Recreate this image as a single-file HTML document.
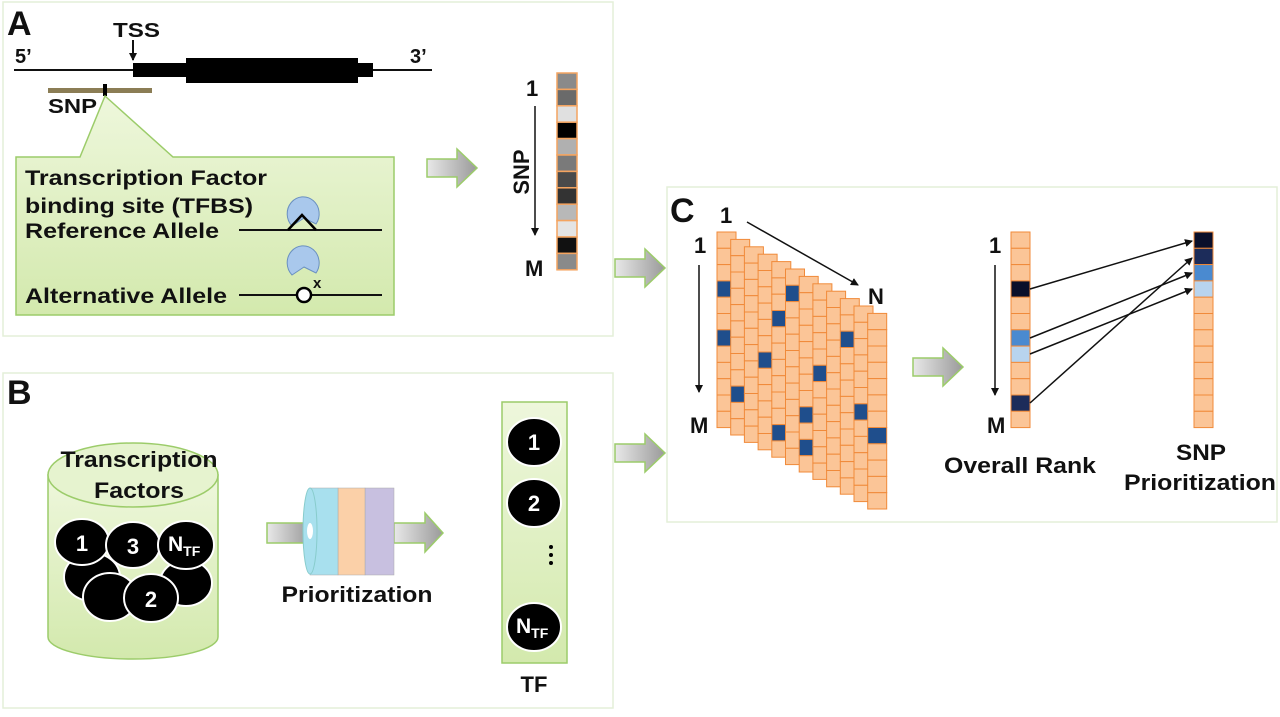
<!DOCTYPE html>
<html><head><meta charset="utf-8"><style>
html,body{margin:0;padding:0;background:#fff;}
svg text{font-family:"Liberation Sans",Arial,sans-serif;font-weight:bold;fill:#111;}
</style></head><body>
<svg width="1280" height="712" viewBox="0 0 1280 712" xmlns="http://www.w3.org/2000/svg">
<defs>
<marker id="ah" markerWidth="8" markerHeight="8" refX="7" refY="4" orient="auto" markerUnits="userSpaceOnUse"><path d="M0,0 L8,4 L0,8 z" fill="#111"/></marker>
<linearGradient id="gr" x1="0" y1="0" x2="1" y2="0"><stop offset="0" stop-color="#e8e8e8"/><stop offset="1" stop-color="#9a9a9a"/></linearGradient>
<linearGradient id="gg" x1="0" y1="0" x2="0" y2="1"><stop offset="0" stop-color="#eef7dc"/><stop offset="1" stop-color="#d3e9ad"/></linearGradient>
<g id="garrow"><path d="M0,10 L30,10 L30,0 L50,19 L30,38 L30,28 L0,28 z" fill="url(#gr)" stroke="#9ccc6a" stroke-width="1.5"/></g>
</defs>
<rect x="3" y="2" width="610" height="334" fill="#fff" stroke="#e4efd8" stroke-width="1.5"/>
<rect x="3" y="373" width="610" height="335" fill="#fff" stroke="#e4efd8" stroke-width="1.5"/>
<rect x="667" y="187" width="610" height="335" fill="#fff" stroke="#e4efd8" stroke-width="1.5"/>

<!-- A -->
<text x="7" y="35" font-size="34">A</text>
<text x="113" y="37" font-size="20" textLength="47" lengthAdjust="spacingAndGlyphs">TSS</text>
<line x1="133" y1="40" x2="133" y2="60" stroke="#111" stroke-width="2" marker-end="url(#ah)"/>
<text x="15" y="63" font-size="20">5’</text>
<text x="410" y="63" font-size="20">3’</text>
<line x1="14" y1="70" x2="432" y2="70" stroke="#111" stroke-width="2"/>
<rect x="133" y="63" width="240" height="14" fill="#000"/>
<rect x="186" y="58" width="172" height="25" fill="#000"/>
<rect x="48" y="88" width="104" height="5" fill="#8b7d55"/>
<rect x="103" y="84" width="4" height="12" fill="#000"/>
<text x="48" y="113" font-size="20" textLength="49" lengthAdjust="spacingAndGlyphs">SNP</text>
<path d="M16,157 L80,157 L105,96 L173,157 L394,157 L394,315 L16,315 z" fill="url(#gg)" stroke="#9ccc6a" stroke-width="1.5"/>
<text x="25" y="185" font-size="21" textLength="242" lengthAdjust="spacingAndGlyphs">Transcription Factor</text>
<text x="25" y="213" font-size="21" textLength="228" lengthAdjust="spacingAndGlyphs">binding site (TFBS)</text>
<text x="25" y="238" font-size="21" textLength="194" lengthAdjust="spacingAndGlyphs">Reference Allele</text>
<text x="25" y="303" font-size="21" textLength="202" lengthAdjust="spacingAndGlyphs">Alternative Allele</text>
<line x1="239" y1="230" x2="382" y2="230" stroke="#111" stroke-width="2"/>
<line x1="239" y1="295" x2="382" y2="295" stroke="#111" stroke-width="2"/>
<path d="M304,218 L292,226 A16,17 0 1 1 316,224 z" fill="#a9c8ec" stroke="#6a90c0"/>
<path d="M288,230 L302,215 L316,230" fill="none" stroke="#000" stroke-width="2.5"/>
<path d="M304,267 L292,275 A16,17 0 1 1 316,273 z" fill="#a9c8ec" stroke="#6a90c0"/>
<text x="313" y="288" font-size="15">x</text>
<circle cx="304" cy="295" r="7" fill="#fff" stroke="#000" stroke-width="2.5"/>
<use href="#garrow" x="427" y="149"/>
<text x="526" y="96" font-size="22">1</text>
<line x1="535" y1="106" x2="535" y2="235" stroke="#111" stroke-width="1.5" marker-end="url(#ah)"/>
<text transform="translate(529,172) rotate(-90)" font-size="22" text-anchor="middle">SNP</text>
<text x="525" y="276" font-size="22">M</text>
<g stroke="#f4a460" stroke-width="1.5">
<rect x="557" y="73" width="20" height="16.4" fill="#8a8a8a"/>
<rect x="557" y="89.4" width="20" height="16.4" fill="#6a6a6a"/>
<rect x="557" y="105.8" width="20" height="16.4" fill="#e0e0e0"/>
<rect x="557" y="122.2" width="20" height="16.4" fill="#000"/>
<rect x="557" y="138.6" width="20" height="16.4" fill="#b0b0b0"/>
<rect x="557" y="155" width="20" height="16.4" fill="#7a7a7a"/>
<rect x="557" y="171.4" width="20" height="16.4" fill="#4a4a4a"/>
<rect x="557" y="187.8" width="20" height="16.4" fill="#333"/>
<rect x="557" y="204.2" width="20" height="16.4" fill="#b8b8b8"/>
<rect x="557" y="220.6" width="20" height="16.4" fill="#e4e4e4"/>
<rect x="557" y="237" width="20" height="16.4" fill="#111"/>
<rect x="557" y="253.4" width="20" height="16.4" fill="#8a8a8a"/>
</g>
<use href="#garrow" x="615" y="249"/>
<use href="#garrow" x="615" y="434"/>

<!-- B -->
<text x="7" y="404" font-size="34">B</text>
<path d="M48,475 L48,637 A85,22 0 0 0 218,637 L218,475 z" fill="url(#gg)" stroke="#9ccc6a" stroke-width="1.5"/>
<ellipse cx="133" cy="475" rx="85" ry="32" fill="#e6f3cf" stroke="#9ccc6a" stroke-width="1.5"/>
<text x="139" y="467" font-size="22" text-anchor="middle" textLength="157" lengthAdjust="spacingAndGlyphs">Transcription</text>
<text x="139" y="498" font-size="22" text-anchor="middle" textLength="90" lengthAdjust="spacingAndGlyphs">Factors</text>
<g fill="#000" stroke="#fff" stroke-width="2">
<ellipse cx="92" cy="577" rx="28" ry="24"/><ellipse cx="186" cy="583" rx="26" ry="23"/>
<ellipse cx="110" cy="597" rx="27" ry="24"/>
<ellipse cx="82" cy="542" rx="27" ry="23"/><ellipse cx="133" cy="545" rx="27" ry="23"/>
<ellipse cx="186" cy="545" rx="28" ry="24"/><ellipse cx="151" cy="598" rx="27" ry="24"/>
</g>
<text x="82" y="551" font-size="22" text-anchor="middle" style="fill:#fff">1</text>
<text x="133" y="554" font-size="22" text-anchor="middle" style="fill:#fff">3</text>
<text x="168" y="551" font-size="21" style="fill:#fff">N<tspan font-size="14" dy="5">TF</tspan></text>
<text x="151" y="607" font-size="22" text-anchor="middle" style="fill:#fff">2</text>
<path d="M267,523 L310,523 L310,543 L267,543 z" fill="url(#gr)" stroke="#9ccc6a" stroke-width="1.5"/>
<path d="M394,523 L425,523 L425,513 L443,533 L425,552 L425,543 L394,543 z" fill="url(#gr)" stroke="#9ccc6a" stroke-width="1.5"/>
<rect x="365" y="488" width="29" height="87" fill="#c8c0e0" stroke="#aaa" stroke-width="0.5"/>
<rect x="338" y="488" width="27" height="87" fill="#fbd0a8" stroke="#aaa" stroke-width="0.5"/>
<rect x="310" y="488" width="28" height="87" fill="#a8e0ee" stroke="#aaa" stroke-width="0.5"/>
<ellipse cx="310" cy="531" rx="7" ry="43" fill="#a8e0ee" stroke="#8cc"/>
<ellipse cx="310" cy="531" rx="3" ry="8" fill="#fff"/>
<text x="357" y="602" font-size="22" text-anchor="middle" textLength="151" lengthAdjust="spacingAndGlyphs">Prioritization</text>
<rect x="502" y="402" width="65" height="261" fill="url(#gg)" stroke="#9ccc6a" stroke-width="1.5"/>
<ellipse cx="534" cy="442" rx="27" ry="24" fill="#000" stroke="#fff" stroke-width="2"/>
<ellipse cx="534" cy="503" rx="27" ry="24" fill="#000" stroke="#fff" stroke-width="2"/>
<ellipse cx="534" cy="627" rx="27" ry="24" fill="#000" stroke="#fff" stroke-width="2"/>
<text x="534" y="450" font-size="22" text-anchor="middle" style="fill:#fff">1</text>
<text x="534" y="511" font-size="22" text-anchor="middle" style="fill:#fff">2</text>
<text x="516" y="633" font-size="21" style="fill:#fff">N<tspan font-size="14" dy="5">TF</tspan></text>
<circle cx="551" cy="547" r="2" fill="#000"/><circle cx="551" cy="555" r="2" fill="#000"/><circle cx="551" cy="563" r="2" fill="#000"/>
<text x="534" y="692" font-size="22" text-anchor="middle">TF</text>

<!-- C -->
<text x="670" y="222" font-size="34">C</text>
<text x="720" y="223" font-size="22">1</text>
<line x1="747" y1="222" x2="858" y2="285" stroke="#111" stroke-width="1.5" marker-end="url(#ah)"/>
<text x="868" y="304" font-size="22">N</text>
<text x="694" y="253" font-size="22">1</text>
<line x1="699" y1="265" x2="699" y2="392" stroke="#111" stroke-width="1.5" marker-end="url(#ah)"/>
<text x="690" y="433" font-size="22">M</text>
<g id="mat" stroke="#f08a3a" stroke-width="1"></g>
<use href="#garrow" x="913" y="348"/>
<text x="989" y="253" font-size="22">1</text>
<line x1="995" y1="265" x2="995" y2="395" stroke="#111" stroke-width="1.5" marker-end="url(#ah)"/>
<text x="987" y="433" font-size="22">M</text>
<g id="ov" stroke="#f08a3a" stroke-width="1"></g>
<text x="1020" y="473" font-size="22" text-anchor="middle" textLength="152" lengthAdjust="spacingAndGlyphs">Overall Rank</text>
<text x="1201" y="460" font-size="22" text-anchor="middle" textLength="50" lengthAdjust="spacingAndGlyphs">SNP</text>
<text x="1200" y="490" font-size="22" text-anchor="middle" textLength="152" lengthAdjust="spacingAndGlyphs">Prioritization</text>
<g stroke="#111" stroke-width="1.5" marker-end="url(#ah)">
<line x1="1030" y1="289" x2="1192" y2="241"/>
<line x1="1030" y1="338" x2="1192" y2="273"/>
<line x1="1030" y1="354" x2="1192" y2="289"/>
<line x1="1030" y1="403" x2="1192" y2="258"/>
</g>
</svg>
<script>
(function(){
var NS="http://www.w3.org/2000/svg";
function cell(g,x,y,w,h,f){var r=document.createElementNS(NS,"rect");r.setAttribute("x",x);r.setAttribute("y",y);r.setAttribute("width",w);r.setAttribute("height",h);r.setAttribute("fill",f);g.appendChild(r);}
var mat=document.getElementById("mat");
var blue={"0,3":1,"0,6":1,"1,9":1,"3,6":1,"4,3":1,"4,10":1,"5,1":1,"6,8":1,"6,10":1,"7,5":1,"9,2":1,"10,6":1,"11,7":1};
for(var i=0;i<12;i++){var x=717+13.7*i,y0=232+7.4*i;for(var r=0;r<12;r++){cell(mat,x,y0+r*16.3,19,16.3,blue[i+","+r]?"#1f4e8c":"#fbc597");}}
var ov=document.getElementById("ov");
var oc={3:"#0a0f2a",6:"#4a8ad0",7:"#b8d4ee",10:"#1c2c5a"};
var sc={0:"#0a0f2a",1:"#1c2c5a",2:"#4a8ad0",3:"#b8d4ee"};
for(var r=0;r<12;r++){cell(ov,1011,232+r*16.3,19,16.3,oc[r]||"#fbc597");cell(ov,1194,232+r*16.3,19,16.3,sc[r]||"#fbc597");}
})();
</script>
</body></html>
